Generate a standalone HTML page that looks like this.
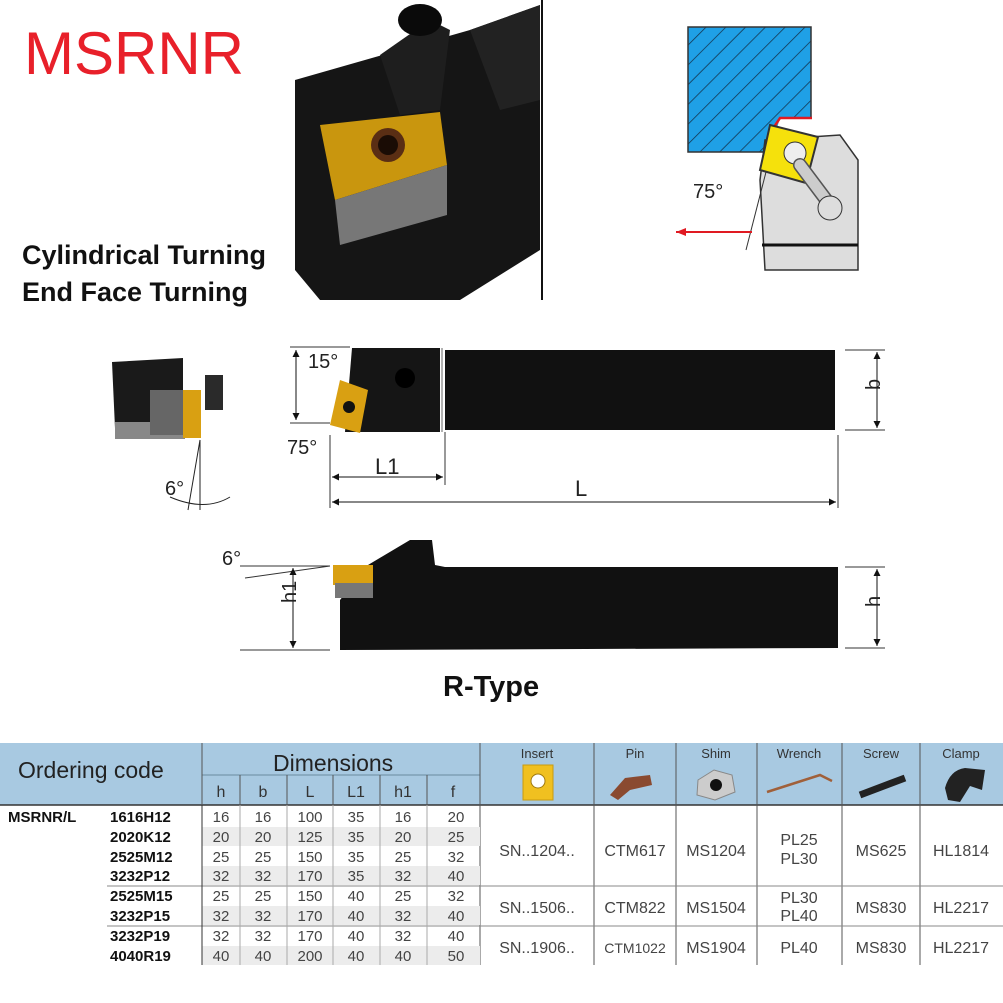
<!DOCTYPE html>
<html><head><meta charset="utf-8"><style>
html,body{margin:0;padding:0;background:#fff;}
svg{display:block;font-family:"Liberation Sans",sans-serif;}
</style></head><body>
<svg width="1003" height="1003" viewBox="0 0 1003 1003" xmlns="http://www.w3.org/2000/svg">
<defs>
<pattern id="hatch" width="14" height="14" patternUnits="userSpaceOnUse" patternTransform="rotate(-45)">
<rect width="14" height="14" fill="#1fa0e6"/><line x1="0" y1="0" x2="14" y2="0" stroke="#13314a" stroke-width="1.5"/>
</pattern>
<marker id="ar" viewBox="0 0 10 10" refX="10" refY="5" markerWidth="16" markerHeight="7" orient="auto-start-reverse"><path d="M0,0 L10,5 L0,10z" fill="#111"/></marker>
</defs>
<rect width="1003" height="1003" fill="#fff"/>
<!-- title -->
<text x="24" y="74" font-size="60" fill="#e8202a">MSRNR</text>
<text x="22" y="264" font-size="27" font-weight="bold" fill="#111">Cylindrical Turning</text>
<text x="22" y="301" font-size="27" font-weight="bold" fill="#111">End Face Turning</text>
<!-- photo -->
<polygon points="295,80 470,30 540,5 540,250 460,300 320,300 295,270" fill="#151515"/>
<polygon points="470,30 540,5 540,100 500,110" fill="#222"/>
<polygon points="380,55 430,20 450,30 440,110 400,115" fill="#1e1e1e"/>
<ellipse cx="420" cy="20" rx="22" ry="16" fill="#0a0a0a"/>
<polygon points="320,125 440,112 447,165 335,200" fill="#c9960e"/>
<polygon points="335,200 447,165 447,215 340,245" fill="#777"/>
<circle cx="388" cy="145" r="17" fill="#5a2e14"/>
<circle cx="388" cy="145" r="10" fill="#1a0c05"/>
<line x1="542" y1="0" x2="542" y2="300" stroke="#111" stroke-width="2"/>
<!-- right schematic -->
<rect x="688" y="27" width="123" height="125" fill="url(#hatch)" stroke="#333" stroke-width="1.5"/>
<polygon points="780,118 812,118 812,152 770,152" fill="#fff"/>
<polyline points="770,152 772,130 780,118 812,118" fill="none" stroke="#e01a22" stroke-width="2.5"/>
<polygon points="760,180 765,140 840,135 858,160 858,270 765,270" fill="#ddd" stroke="#333" stroke-width="1.5"/>
<line x1="762" y1="245" x2="858" y2="245" stroke="#111" stroke-width="3"/>
<polygon points="770,125 818,137 806,183 760,170" fill="#f5e10c" stroke="#333" stroke-width="2"/>
<circle cx="795" cy="153" r="11" fill="#eee" stroke="#333"/>
<line x1="800" y1="165" x2="830" y2="205" stroke="#555" stroke-width="14" stroke-linecap="round"/>
<line x1="800" y1="165" x2="830" y2="205" stroke="#ccc" stroke-width="11" stroke-linecap="round"/>
<circle cx="830" cy="208" r="12" fill="#ddd" stroke="#333"/>
<text x="693" y="198" font-size="20" fill="#222">75°</text>
<line x1="766" y1="172" x2="746" y2="250" stroke="#333"/>
<line x1="752" y1="232" x2="676" y2="232" stroke="#e01a22" stroke-width="2"/>
<polygon points="676,232 686,228 686,236" fill="#e01a22"/>
<!-- left small end view -->
<polygon points="112,362 183,358 183,428 115,428" fill="#1a1a1a"/>
<rect x="205" y="375" width="18" height="35" fill="#2a2a2a"/>
<rect x="115" y="422" width="70" height="17" fill="#888"/>
<rect x="150" y="390" width="35" height="45" fill="#666"/>
<rect x="183" y="390" width="18" height="48" fill="#d9a012"/>
<line x1="200" y1="440" x2="188" y2="510" stroke="#222"/>
<line x1="200" y1="440" x2="200" y2="510" stroke="#222"/>
<path d="M170,497 Q205,512 230,497" fill="none" stroke="#222"/>
<text x="165" y="495" font-size="20" fill="#222">6°</text>
<!-- top view -->
<polygon points="352,348 440,348 440,432 345,432" fill="#151515"/>
<rect x="445" y="350" width="390" height="80" fill="#111"/>
<line x1="442" y1="348" x2="442" y2="432" stroke="#666"/>
<polygon points="340,380 368,390 360,433 330,425" fill="#d9a012"/>
<circle cx="349" cy="407" r="6" fill="#111"/>
<circle cx="405" cy="378" r="10" fill="#000"/>
<line x1="290" y1="347" x2="350" y2="347" stroke="#333"/>
<line x1="290" y1="423" x2="330" y2="423" stroke="#333"/>
<line x1="296" y1="350" x2="296" y2="420" stroke="#111" marker-start="url(#ar)" marker-end="url(#ar)"/>
<text x="308" y="368" font-size="20" fill="#222">15°</text>
<text x="287" y="454" font-size="20" fill="#222">75°</text>
<line x1="330" y1="435" x2="330" y2="508" stroke="#333"/>
<line x1="445" y1="432" x2="445" y2="485" stroke="#333"/>
<line x1="838" y1="435" x2="838" y2="508" stroke="#333"/>
<line x1="332" y1="477" x2="443" y2="477" stroke="#111" marker-start="url(#ar)" marker-end="url(#ar)"/>
<line x1="332" y1="502" x2="836" y2="502" stroke="#111" marker-start="url(#ar)" marker-end="url(#ar)"/>
<text x="375" y="474" font-size="22" fill="#222">L1</text>
<text x="575" y="496" font-size="22" fill="#222">L</text>
<line x1="845" y1="350" x2="885" y2="350" stroke="#333"/>
<line x1="845" y1="430" x2="885" y2="430" stroke="#333"/>
<line x1="877" y1="352" x2="877" y2="428" stroke="#111" marker-start="url(#ar)" marker-end="url(#ar)"/>
<text x="875" y="395" font-size="20" fill="#222" transform="rotate(-90 875 390)">b</text>
<!-- side view -->
<polygon points="368,565 410,540 432,540 435,565 445,567 838,567 838,648 340,650 340,600" fill="#111"/>
<rect x="333" y="565" width="40" height="20" fill="#d9a012"/>
<rect x="335" y="583" width="38" height="15" fill="#777"/>
<line x1="240" y1="566" x2="330" y2="566" stroke="#333"/>
<line x1="245" y1="578" x2="330" y2="566" stroke="#333"/>
<line x1="240" y1="650" x2="330" y2="650" stroke="#333"/>
<line x1="293" y1="568" x2="293" y2="648" stroke="#111" marker-start="url(#ar)" marker-end="url(#ar)"/>
<text x="222" y="565" font-size="20" fill="#222">6°</text>
<text x="288" y="625" font-size="20" fill="#222" transform="rotate(-90 281 610)">h1</text>
<line x1="845" y1="567" x2="885" y2="567" stroke="#333"/>
<line x1="845" y1="648" x2="885" y2="648" stroke="#333"/>
<line x1="877" y1="569" x2="877" y2="646" stroke="#111" marker-start="url(#ar)" marker-end="url(#ar)"/>
<text x="875" y="612" font-size="20" fill="#222" transform="rotate(-90 875 607)">h</text>
<text x="443" y="696" font-size="29" font-weight="bold" fill="#111">R-Type</text>
<!-- table header -->
<rect x="0" y="743" width="1003" height="62" fill="#a8c9e1"/>
<line x1="0" y1="805" x2="1003" y2="805" stroke="#333" stroke-width="1.5"/>
<line x1="202" y1="775" x2="480" y2="775" stroke="#6a8aa0"/>
<g stroke="#555"><line x1="202" y1="743" x2="202" y2="805"/><line x1="480" y1="743" x2="480" y2="965"/>
<line x1="240" y1="775" x2="240" y2="805"/><line x1="287" y1="775" x2="287" y2="805"/><line x1="333" y1="775" x2="333" y2="805"/><line x1="380" y1="775" x2="380" y2="805"/><line x1="427" y1="775" x2="427" y2="805"/>
<line x1="594" y1="743" x2="594" y2="965"/><line x1="676" y1="743" x2="676" y2="965"/><line x1="757" y1="743" x2="757" y2="965"/><line x1="842" y1="743" x2="842" y2="965"/><line x1="920" y1="743" x2="920" y2="965"/></g>
<text x="18" y="778" font-size="23" fill="#222">Ordering code</text>
<text x="273" y="771" font-size="23" fill="#222">Dimensions</text>
<g font-size="16" fill="#333" text-anchor="middle">
<text x="221" y="797">h</text><text x="263" y="797">b</text><text x="310" y="797">L</text><text x="356" y="797">L1</text><text x="403" y="797">h1</text><text x="453" y="797">f</text>
</g>
<g font-size="13" fill="#333" text-anchor="middle">
<text x="537" y="758">Insert</text><text x="635" y="758">Pin</text><text x="716" y="758">Shim</text><text x="799" y="758">Wrench</text><text x="881" y="758">Screw</text><text x="961" y="758">Clamp</text>
</g>
<rect x="523" y="765" width="30" height="35" fill="#f0c020" stroke="#c99a10"/><circle cx="538" cy="781" r="7" fill="#fff" stroke="#a07a10"/>
<polygon points="610,795 625,778 650,775 652,785 630,790 618,800" fill="#8a4a30"/>
<polygon points="698,780 714,770 732,775 735,792 715,800 697,795" fill="#ccc" stroke="#888"/><circle cx="716" cy="785" r="6" fill="#111"/>
<polyline points="767,792 820,775 832,781" fill="none" stroke="#a0603a" stroke-width="2.5"/>
<line x1="860" y1="795" x2="905" y2="778" stroke="#222" stroke-width="7"/>
<path d="M945,788 Q950,770 965,768 L985,770 L982,790 L970,786 L960,802 L948,800z" fill="#222"/>
<!-- stripes -->
<g fill="#ececec"><rect x="202" y="827" width="278" height="19"/><rect x="202" y="866" width="278" height="19"/><rect x="202" y="906" width="278" height="19"/><rect x="202" y="946" width="278" height="19"/></g>
<g stroke="#888"><line x1="107" y1="886" x2="1003" y2="886"/><line x1="107" y1="926" x2="1003" y2="926"/></g>
<g stroke="#aaa"><line x1="240" y1="805" x2="240" y2="965"/><line x1="287" y1="805" x2="287" y2="965"/><line x1="333" y1="805" x2="333" y2="965"/><line x1="380" y1="805" x2="380" y2="965"/><line x1="427" y1="805" x2="427" y2="965"/><line x1="202" y1="805" x2="202" y2="965" stroke="#333"/></g>
<g font-size="15" font-weight="bold" fill="#111">
<text x="8" y="822">MSRNR/L</text>
<text x="110" y="822">1616H12</text><text x="110" y="842">2020K12</text><text x="110" y="862">2525M12</text><text x="110" y="881">3232P12</text>
<text x="110" y="901">2525M15</text><text x="110" y="921">3232P15</text><text x="110" y="941">3232P19</text><text x="110" y="961">4040R19</text>
</g>
<g font-size="15" fill="#444" text-anchor="middle">
<text y="822"><tspan x="221">16</tspan><tspan x="263">16</tspan><tspan x="310">100</tspan><tspan x="356">35</tspan><tspan x="403">16</tspan><tspan x="456">20</tspan></text>
<text y="842"><tspan x="221">20</tspan><tspan x="263">20</tspan><tspan x="310">125</tspan><tspan x="356">35</tspan><tspan x="403">20</tspan><tspan x="456">25</tspan></text>
<text y="862"><tspan x="221">25</tspan><tspan x="263">25</tspan><tspan x="310">150</tspan><tspan x="356">35</tspan><tspan x="403">25</tspan><tspan x="456">32</tspan></text>
<text y="881"><tspan x="221">32</tspan><tspan x="263">32</tspan><tspan x="310">170</tspan><tspan x="356">35</tspan><tspan x="403">32</tspan><tspan x="456">40</tspan></text>
<text y="901"><tspan x="221">25</tspan><tspan x="263">25</tspan><tspan x="310">150</tspan><tspan x="356">40</tspan><tspan x="403">25</tspan><tspan x="456">32</tspan></text>
<text y="921"><tspan x="221">32</tspan><tspan x="263">32</tspan><tspan x="310">170</tspan><tspan x="356">40</tspan><tspan x="403">32</tspan><tspan x="456">40</tspan></text>
<text y="941"><tspan x="221">32</tspan><tspan x="263">32</tspan><tspan x="310">170</tspan><tspan x="356">40</tspan><tspan x="403">32</tspan><tspan x="456">40</tspan></text>
<text y="961"><tspan x="221">40</tspan><tspan x="263">40</tspan><tspan x="310">200</tspan><tspan x="356">40</tspan><tspan x="403">40</tspan><tspan x="456">50</tspan></text>
</g>
<g font-size="16" fill="#444" text-anchor="middle">
<text x="537" y="856">SN..1204..</text><text x="635" y="856">CTM617</text><text x="716" y="856">MS1204</text><text x="799" y="845">PL25</text><text x="799" y="864">PL30</text><text x="881" y="856">MS625</text><text x="961" y="856">HL1814</text>
<text x="537" y="913">SN..1506..</text><text x="635" y="913">CTM822</text><text x="716" y="913">MS1504</text><text x="799" y="903">PL30</text><text x="799" y="921">PL40</text><text x="881" y="913">MS830</text><text x="961" y="913">HL2217</text>
<text x="537" y="953">SN..1906..</text><text x="635" y="953" font-size="14">CTM1022</text><text x="716" y="953">MS1904</text><text x="799" y="953">PL40</text><text x="881" y="953">MS830</text><text x="961" y="953">HL2217</text>
</g>
</svg>
</body></html>
